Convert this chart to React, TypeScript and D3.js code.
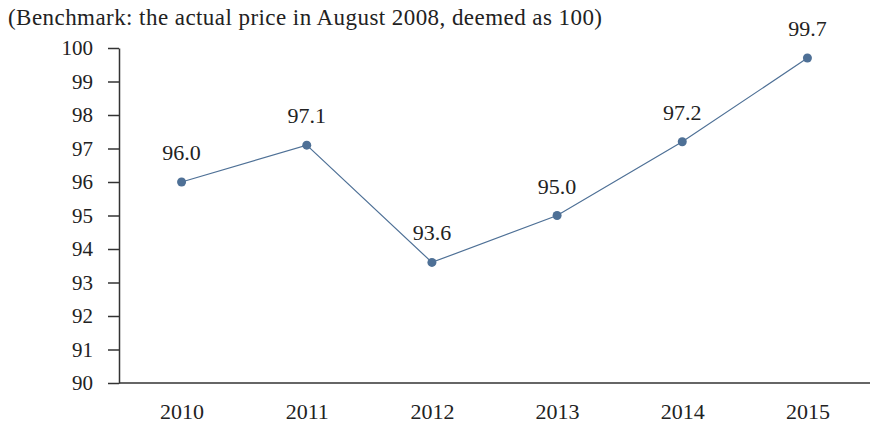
import { useEffect, useRef } from "react";
import * as d3 from "d3";

const years = ["2010", "2011", "2012", "2013", "2014", "2015"];
const prices = [96.0, 97.1, 93.6, 95.0, 97.2, 99.7];
const yTicks = [90, 91, 92, 93, 94, 95, 96, 97, 98, 99, 100];
const note = "(Benchmark: the actual price in August 2008, deemed as 100)";

const W = 872;
const H = 425;
const FONT = "'Liberation Serif', 'Times New Roman', serif";
const BLUE = "#4e7096";

export default function App() {
  const ref = useRef<SVGSVGElement>(null);

  useEffect(() => {
    const svg = d3.select(ref.current);
    svg.selectAll("*").remove();

    const left = 119;
    const right = 870;
    const bottom = 383;
    const top = 48;

    const x = d3.scalePoint().domain(years).range([left, right]).padding(0.5);
    const y = d3.scaleLinear().domain([90, 100]).range([bottom, top]);

    svg
      .append("text")
      .attr("x", 8)
      .attr("y", 25)
      .attr("font-family", FONT)
      .attr("font-size", 23)
      .attr("textLength", 594)
      .attr("lengthAdjust", "spacing")
      .attr("fill", "#222")
      .text(note);

    // y axis
    const yAxis = svg
      .append("g")
      .attr("transform", "translate(" + left + ",0)")
      .call(d3.axisLeft(y).tickValues(yTicks).tickSize(11).tickSizeOuter(0).tickPadding(15));
    yAxis.select(".domain").attr("stroke", "#333").attr("stroke-width", 1.5);
    yAxis.selectAll(".tick line").attr("stroke", "#333").attr("stroke-width", 1.5);
    yAxis
      .selectAll(".tick text")
      .attr("font-family", FONT)
      .attr("font-size", 21)
      .attr("fill", "#222");

    // x axis: line only, no ticks
    const xAxis = svg
      .append("g")
      .attr("transform", "translate(0," + bottom + ")")
      .call(d3.axisBottom(x).tickSize(0).tickPadding(20));
    xAxis.select(".domain").attr("d", "M" + left + ",0H" + right).attr("stroke", "#333").attr("stroke-width", 1.5);
    xAxis
      .selectAll(".tick text")
      .attr("font-family", FONT)
      .attr("font-size", 22)
      .attr("fill", "#222");

    const pts = years.map((yr, i) => ({ yr, v: prices[i] }));

    const line = d3
      .line<{ yr: string; v: number }>()
      .x((d) => x(d.yr)!)
      .y((d) => y(d.v));

    svg
      .append("path")
      .datum(pts)
      .attr("d", line)
      .attr("fill", "none")
      .attr("stroke", BLUE)
      .attr("stroke-width", 1.2);

    svg
      .append("g")
      .selectAll("circle")
      .data(pts)
      .join("circle")
      .attr("cx", (d) => x(d.yr)!)
      .attr("cy", (d) => y(d.v))
      .attr("r", 4.5)
      .attr("fill", BLUE);

    svg
      .append("g")
      .selectAll("text")
      .data(pts)
      .join("text")
      .attr("x", (d) => x(d.yr)!)
      .attr("y", (d) => y(d.v) - 22)
      .attr("text-anchor", "middle")
      .attr("font-family", FONT)
      .attr("font-size", 22)
      .attr("fill", "#222")
      .text((d) => d.v.toFixed(1));
  }, []);

  return <svg ref={ref} width={W} height={H} style={{ position: "absolute", left: 0, top: 0 }} />;
}
